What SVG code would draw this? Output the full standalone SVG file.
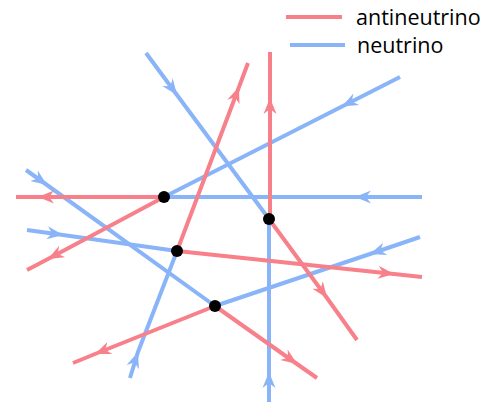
<svg xmlns="http://www.w3.org/2000/svg" width="504" height="403" viewBox="0 0 504 403">
<style>
.r{stroke:#f7808a;stroke-width:4;fill:none;marker-mid:url(#ar)}
.b{stroke:#8ab4f8;stroke-width:4;fill:none;marker-mid:url(#ab)}
.lr{stroke:#f7808a;stroke-width:4;fill:none}
.lb{stroke:#8ab4f8;stroke-width:4;fill:none}
.v{fill:#000}
text{font-family:"Open Sans","Noto Sans",sans-serif;font-size:21.5px;fill:#000}
</style>
<defs>
<marker id="ar" markerUnits="userSpaceOnUse" viewBox="-18 -8 20 16" markerWidth="20" markerHeight="16" refX="0" refY="0" orient="auto">
<path d="M0,0 L-16,-6.5 L-11,0 L-16,6.5 Z" fill="#f7808a"/>
</marker>
<marker id="ab" markerUnits="userSpaceOnUse" viewBox="-18 -8 20 16" markerWidth="20" markerHeight="16" refX="0" refY="0" orient="auto">
<path d="M0,0 L-16,-6.5 L-11,0 L-16,6.5 Z" fill="#8ab4f8"/>
</marker>
</defs>
<g id="connectors">
<path class="b" d="M422,197 L355,197 L164,197"/>
<path class="b" d="M400,77 L342,106.5 L164,197"/>
<path class="b" d="M146,53 L177,95 L269,219"/>
<path class="b" d="M27,230 L63,235 L177,251"/>
<path class="b" d="M26,170 L47,185 L215,306"/>
<path class="b" d="M130,378 L138,352 L177,251"/>
<path class="b" d="M269,402 L269,372 L269,219"/>
<path class="b" d="M420,237 L370,254 L215,306"/>
<path class="r" d="M164,197 L38,197 L16,197"/>
<path class="r" d="M164,197 L48,259 L27,270"/>
<path class="r" d="M177,251 L239,87 L248,63"/>
<path class="r" d="M270,219 L270,98 L270,52"/>
<path class="r" d="M177,251 L394,274 L422,277"/>
<path class="r" d="M269,219 L327,298 L357,340"/>
<path class="r" d="M215,306 L95,354 L73,363"/>
<path class="r" d="M215,306 L297,364 L317,378"/>
</g>
<g id="node-A"><circle class="v" cx="164" cy="197" r="6"/></g>
<g id="node-B"><circle class="v" cx="269" cy="219" r="6"/></g>
<g id="node-C"><circle class="v" cx="177" cy="251" r="6"/></g>
<g id="node-D"><circle class="v" cx="215" cy="306" r="6"/></g>
<g id="legend">
<line class="lr" x1="286" y1="17" x2="342" y2="17"/>
<text x="356" y="25">antineutrino</text>
<line class="lb" x1="290" y1="45" x2="345" y2="45"/>
<text x="357" y="53">neutrino</text>
</g>
</svg>
